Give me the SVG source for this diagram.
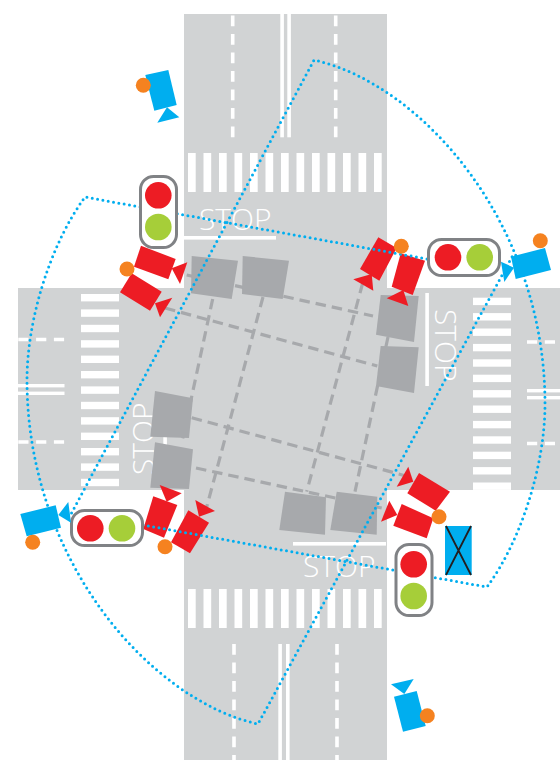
<svg xmlns="http://www.w3.org/2000/svg" width="560" height="760" viewBox="0 0 560 760">
<style>
.road{fill:#d1d3d4}
.w{fill:#fff}
.sq{fill:#a7a9ac}
.lane{fill:none;stroke:#a7a9ac;stroke-width:3.2;stroke-dasharray:10.5 6}
.fov{fill:none;stroke:#00aeef;stroke-width:3;stroke-linecap:round;stroke-dasharray:0 5.4}
.dv{fill:none;stroke:#fff;stroke-width:3.6;stroke-dasharray:10.7 7.8}
.box{fill:#fff;stroke:#808285;stroke-width:3}
.r{fill:#ed1c24}.g{fill:#a6ce39}.b{fill:#00aeef}.o{fill:#f58220}
.stop{font-family:"Open Sans","Liberation Sans",sans-serif;font-weight:300;font-size:30px;fill:#fff}
</style>
<defs>
<g id="hs"><rect width="7.7" height="39" class="w"/></g>
<g id="vs"><rect width="38" height="7.4" class="w"/></g>
</defs>
<rect width="560" height="760" fill="#fff"/>
<g id="roads">
<rect class="road" x="184" y="14" width="203" height="746"/>
<rect class="road" x="18" y="288" width="542" height="202"/>
</g>
<g id="markings">
<g id="crosswalk-top">
<use href="#hs" x="188" y="153"/><use href="#hs" x="203.5" y="153"/><use href="#hs" x="219" y="153"/><use href="#hs" x="234.5" y="153"/><use href="#hs" x="250" y="153"/><use href="#hs" x="265.5" y="153"/><use href="#hs" x="281" y="153"/><use href="#hs" x="296.5" y="153"/><use href="#hs" x="312" y="153"/><use href="#hs" x="327.5" y="153"/><use href="#hs" x="343" y="153"/><use href="#hs" x="358.5" y="153"/><use href="#hs" x="374" y="153"/>
</g>
<g id="crosswalk-bottom">
<use href="#hs" x="188" y="589"/><use href="#hs" x="203.5" y="589"/><use href="#hs" x="219" y="589"/><use href="#hs" x="234.5" y="589"/><use href="#hs" x="250" y="589"/><use href="#hs" x="265.5" y="589"/><use href="#hs" x="281" y="589"/><use href="#hs" x="296.5" y="589"/><use href="#hs" x="312" y="589"/><use href="#hs" x="327.5" y="589"/><use href="#hs" x="343" y="589"/><use href="#hs" x="358.5" y="589"/><use href="#hs" x="374" y="589"/>
</g>
<g id="crosswalk-left">
<use href="#vs" x="81" y="294"/><use href="#vs" x="81" y="309.4"/><use href="#vs" x="81" y="324.8"/><use href="#vs" x="81" y="340.2"/><use href="#vs" x="81" y="355.6"/><use href="#vs" x="81" y="371"/><use href="#vs" x="81" y="386.4"/><use href="#vs" x="81" y="401.8"/><use href="#vs" x="81" y="417.2"/><use href="#vs" x="81" y="432.6"/><use href="#vs" x="81" y="448"/><use href="#vs" x="81" y="463.4"/><use href="#vs" x="81" y="478.8"/>
</g>
<g id="crosswalk-right">
<use href="#vs" x="473" y="297.7"/><use href="#vs" x="473" y="313.1"/><use href="#vs" x="473" y="328.5"/><use href="#vs" x="473" y="343.9"/><use href="#vs" x="473" y="359.3"/><use href="#vs" x="473" y="374.7"/><use href="#vs" x="473" y="390.1"/><use href="#vs" x="473" y="405.5"/><use href="#vs" x="473" y="420.9"/><use href="#vs" x="473" y="436.3"/><use href="#vs" x="473" y="451.7"/><use href="#vs" x="473" y="467.1"/><use href="#vs" x="473" y="482.5"/>
</g>
<g id="centre-lines">
<rect class="w" x="280.3" y="14" width="3.6" height="123.3"/><rect class="w" x="287.3" y="14" width="3.6" height="123.3"/>
<rect class="w" x="278.3" y="644" width="3.6" height="116"/><rect class="w" x="286" y="644" width="3.6" height="116"/>
<rect class="w" x="18" y="384" width="46.5" height="3.4"/><rect class="w" x="18" y="391.6" width="46.5" height="3.4"/>
<rect class="w" x="527" y="389" width="33" height="3.4"/><rect class="w" x="527" y="396" width="33" height="3.4"/>
<path class="dv" d="M232.7 137.3V14M335.7 137.3V14M234 644V760M337 644V760"/>
<path class="dv" d="M18.3 339.5H64.5M18.3 442H64.5M527 342H560M527 443.5H560" style="stroke-dasharray:10.2 7.6"/>
</g>
<g id="stop-lines">
<rect class="w" x="184" y="236" width="92" height="3.6"/>
<rect class="w" x="425.3" y="293" width="3.6" height="93"/>
<rect class="w" x="163.3" y="397" width="3.6" height="93"/>
<rect class="w" x="293" y="542" width="93" height="3.6"/>
</g>
<text class="stop" x="199" y="230">STOP</text>
<text class="stop" x="303" y="577">STOP</text>
<text class="stop" transform="translate(435 309) rotate(90)">STOP</text>
<text class="stop" transform="translate(154 475) rotate(-90)">STOP</text>
</g>
<g id="lanes">
<path class="lane" d="M186.7 275L373 316M165 308L377.3 366M191.7 417.7L405 475.7M196 468L381.7 508"/>
<path class="lane" d="M212.7 299L181.7 443M263 297L206.7 507M362.7 283L306.7 491.7M388 337L355 491.7"/>
</g>
<g id="detector-a"><polygon class="sq" points="191.7,256 238,260.7 231.7,299 191,293.3"/></g>
<g id="detector-b"><polygon class="sq" points="242.7,256 289,260.7 282.7,299 242,294"/></g>
<g id="detector-c"><polygon class="sq" points="380.7,295 418.7,296 414,342 376,334.7"/></g>
<g id="detector-d"><polygon class="sq" points="380.7,346 418.7,347.3 414,393 376,386"/></g>
<g id="detector-e"><polygon class="sq" points="155,391 193,398.3 189,438 150.3,436.7"/></g>
<g id="detector-f"><polygon class="sq" points="155,442.3 193,449.3 189,489 150.3,487.7"/></g>
<g id="detector-g"><polygon class="sq" points="285,491.7 326,497.3 325,534.7 279.3,530"/></g>
<g id="detector-h"><polygon class="sq" points="336.7,491.7 377.3,496.7 376.7,534.7 330.3,530"/></g>
<g id="red-top-left-1"><polygon class="r" points="141,245.7 175.7,259 168.3,279.3 134,266.7"/><polygon class="r" points="187.3,262.3 171.7,268.3 180,284"/></g>
<g id="red-top-left-2"><polygon class="r" points="131.7,273.3 161.7,291.7 150,310.7 120,292.3"/><polygon class="r" points="172.3,297.7 155,303.3 160,317.3"/></g>
<g id="red-top-right-1"><polygon class="r" points="378.3,237.3 396.7,248 379.3,280.7 360,269"/><polygon class="r" points="353.3,279.3 371.7,274 373.3,290.7"/></g>
<g id="red-top-right-2"><polygon class="r" points="400.7,253.3 425,260.7 412.7,295 391.7,286.7"/><polygon class="r" points="403.3,290 386.7,298.3 408.3,306"/></g>
<g id="red-bottom-left-1"><polygon class="r" points="153.3,496.3 177.3,505 164,537.7 143.3,529"/><polygon class="r" points="159.7,485 181.7,493.3 166.7,501.7"/></g>
<g id="red-bottom-left-2"><polygon class="r" points="188.3,510.3 209,522.7 190,553.3 171,542.3"/><polygon class="r" points="195.3,500 215,511 199,516.7"/></g>
<g id="red-bottom-right-1"><polygon class="r" points="419,473 450,491.7 435.7,510.7 407.3,493.3"/><polygon class="r" points="408.3,466.7 396.7,486.7 413.3,481.7"/></g>
<g id="red-bottom-right-2"><polygon class="r" points="401.7,504 433.3,518.3 426.7,538.3 393.3,525.7"/><polygon class="r" points="389.3,500.7 381,521.7 397.3,515"/></g>
<g id="connectors">
<path class="fov" d="M427 259L85 197C50 245 27 320 27 380C27 560 150 700 258 724L513 255"/>
<path class="fov" d="M143 525L487 587C522 539 545 464 545 404C545 224 422 84 314 60L71 514"/>
</g>
<g id="orange-tl"><circle class="o" cx="127" cy="269" r="7.5"/></g>
<g id="orange-tr"><circle class="o" cx="401.3" cy="246.3" r="7.5"/></g>
<g id="orange-bl"><circle class="o" cx="165" cy="546.7" r="7.5"/></g>
<g id="orange-br"><circle class="o" cx="439" cy="516.7" r="7.5"/></g>
<g id="light-top"><rect class="box" x="140.5" y="176.5" width="36" height="71" rx="13"/><circle class="r" cx="158.3" cy="195.3" r="13.3"/><circle class="g" cx="158.3" cy="227" r="13.3"/></g>
<g id="light-right"><rect class="box" x="428.5" y="239.5" width="71" height="36" rx="13"/><circle class="r" cx="448" cy="257.3" r="13.3"/><circle class="g" cx="479.7" cy="257.3" r="13.3"/></g>
<g id="light-left"><rect class="box" x="71.5" y="510.5" width="71" height="35" rx="13"/><circle class="r" cx="90.3" cy="528.3" r="13.3"/><circle class="g" cx="122" cy="528.3" r="13.3"/></g>
<g id="light-bottom"><rect class="box" x="396" y="544.5" width="36" height="71" rx="13"/><circle class="r" cx="413.7" cy="564.3" r="13.3"/><circle class="g" cx="413.7" cy="596" r="13.3"/></g>
<g id="camera-top"><polygon class="b" points="145.3,75 168.3,70 176.7,105 154.3,110.7"/><polygon class="b" points="167,107.3 179.3,117.3 157.3,122.7"/><circle class="o" cx="143.3" cy="85.3" r="7.5"/></g>
<g id="camera-right"><polygon class="b" points="511,256.7 545,248 551,270 515.7,279"/><polygon class="b" points="501,261.7 514,267.7 504.3,282"/><circle class="o" cx="540.3" cy="240.7" r="7.5"/></g>
<g id="camera-left"><polygon class="b" points="20.3,514 55.7,505.3 61,527.7 26.7,536.3"/><polygon class="b" points="68.3,502 71,522.7 58.3,515"/><circle class="o" cx="32.7" cy="542.3" r="7.5"/></g>
<g id="camera-bottom"><polygon class="b" points="394,696.7 416.7,691 425.7,726 403,731.7"/><polygon class="b" points="391,684.3 413.7,679 404.3,694"/><circle class="o" cx="427.3" cy="715.7" r="7.5"/></g>
<g id="crossed-box"><rect class="b" x="445" y="526" width="26.7" height="49"/><path d="M446 526L471 575M471 526L446 575" fill="none" stroke="#231f20" stroke-width="1.8"/></g>
</svg>
